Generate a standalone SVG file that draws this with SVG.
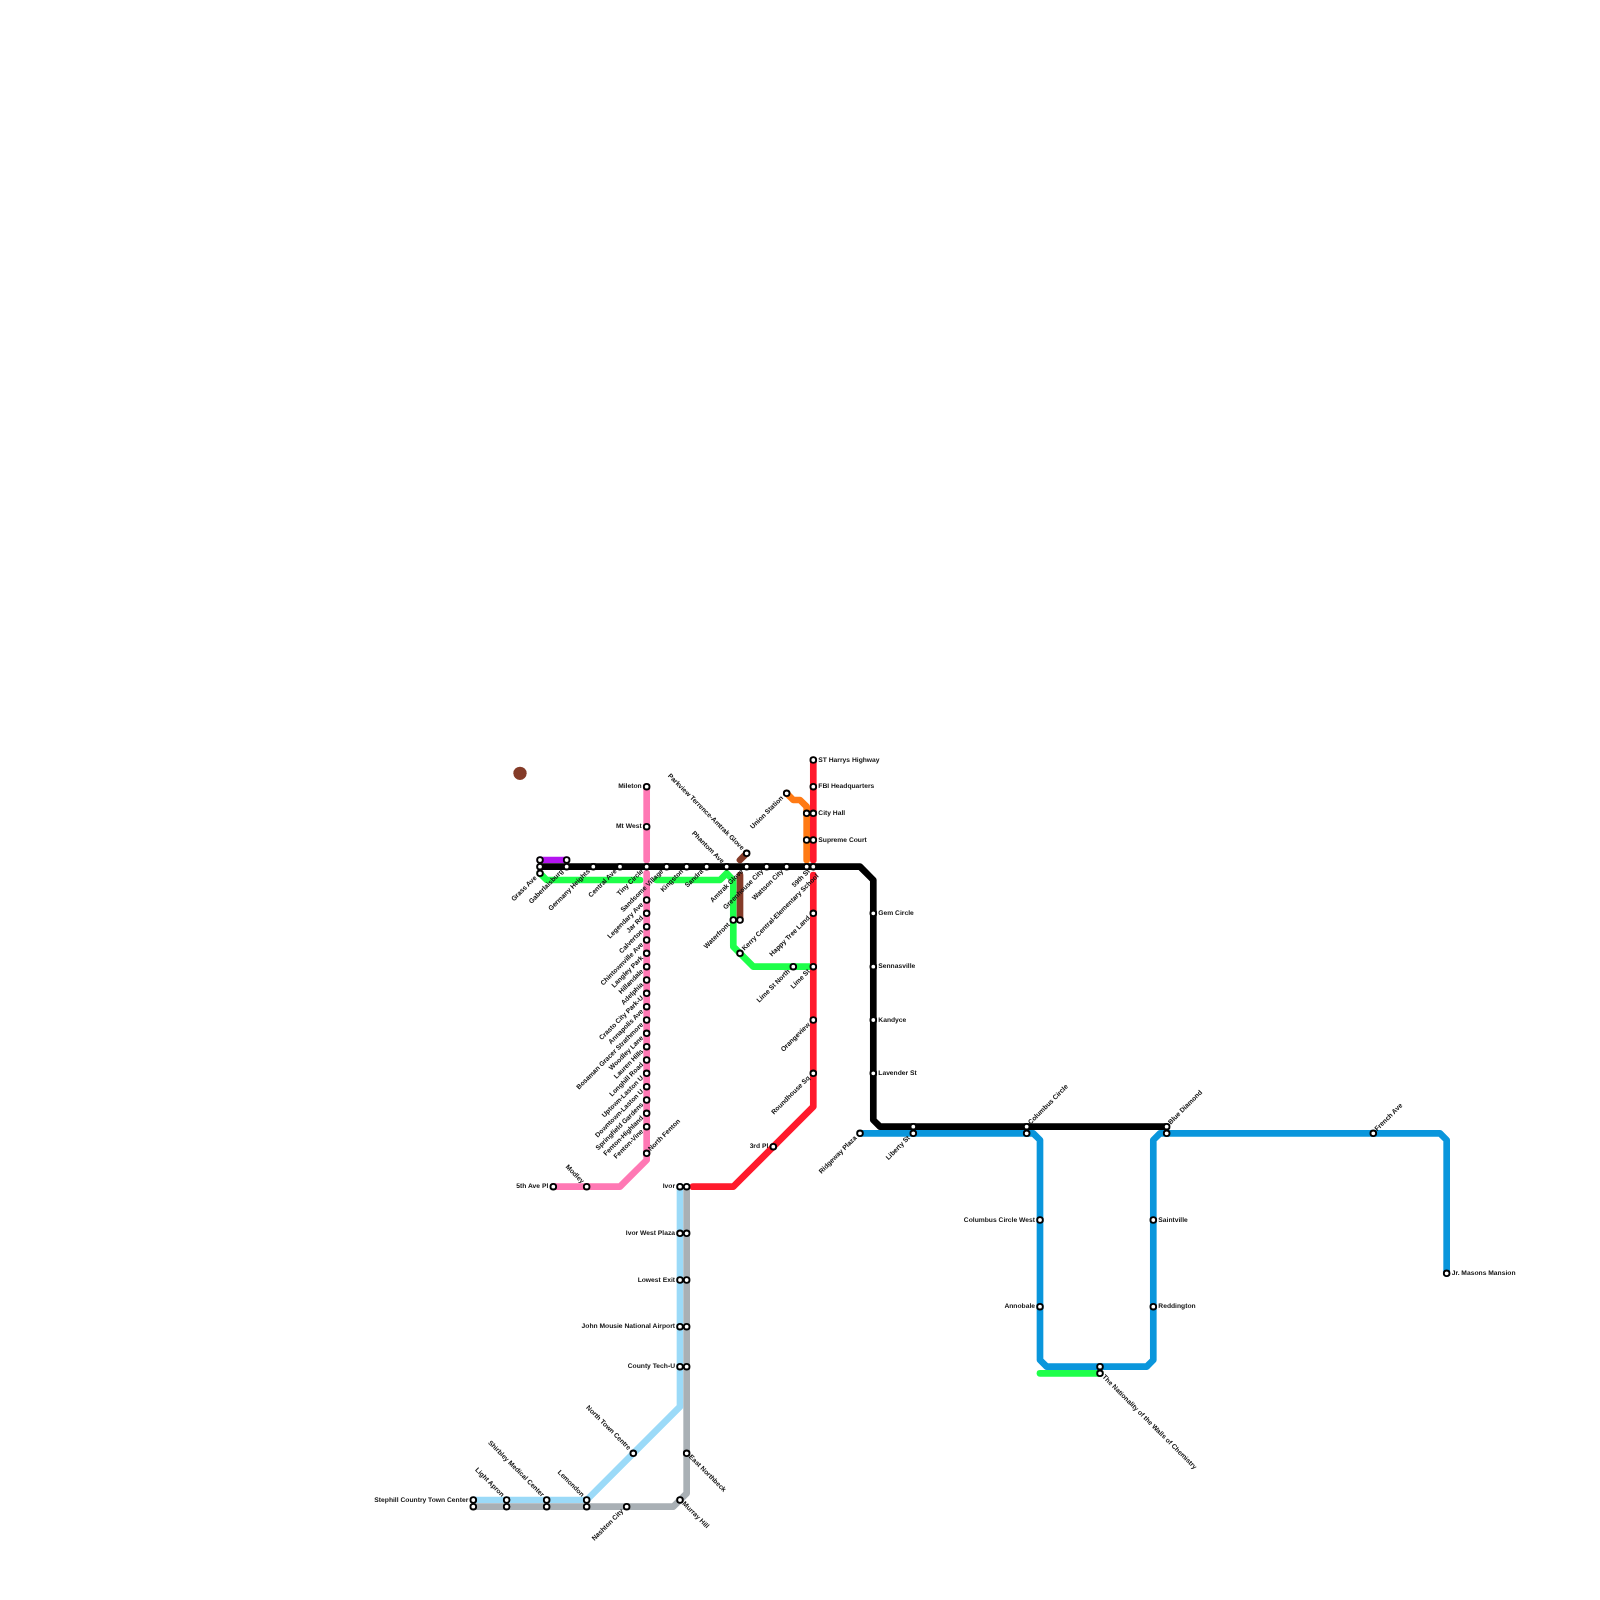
<svg xmlns="http://www.w3.org/2000/svg" width="1600" height="1600" viewBox="0 0 1600 1600">
<style>
.l{fill:none;stroke-width:6.67;stroke-linecap:round;stroke-linejoin:round}
.pk{stroke:#ff78b4}.rd{stroke:#ff1a2c}.gn{stroke:#1eff4a}.bl{stroke:#0a96dc}.lb{stroke:#9bdaf8}.gy{stroke:#a9b0b5}.or{stroke:#ff7a14}.pu{stroke:#b414f0}.br{stroke:#843b28}.bk{stroke:#000}
circle.s{fill:#fff;stroke:#000;stroke-width:1.85}
text{font-family:"Liberation Sans",Arial,sans-serif;font-size:6.72px;font-weight:700;fill:#111;dominant-baseline:central;text-rendering:geometricPrecision;filter:grayscale(1)}
text:not([transform]){translate:0 .3px}
.e{text-anchor:end}
</style>
<rect width="1600" height="1600" fill="#fff"/>
<circle id="brown-dot" cx="520" cy="773.3" r="6.67" fill="#843b28"/>
<g id="connectors">
<path class="l pu" d="M540 860H566.67"/>
<path class="l pk" d="M646.67 786.67V860"/>
<path class="l pk" d="M646.67 873.3V1160L620 1186.67H553.3"/>
<path class="l gn" d="M540 873.3L546.67 880H640"/>
<path class="l gn" d="M656.67 880H720L726.67 873.3L733.3 880V946.67L753.3 966.67H810"/>
<path class="l gn" d="M1040 1373.3H1100"/>
<path class="l br" d="M746.67 853.3L740 860"/>
<path class="l br" d="M740 875V920"/>
<path class="l or" d="M786.67 793.3L793.3 800H800L806.67 806.67V860"/>
<path class="l rd" d="M813.3 760V860"/>
<path class="l rd" d="M813.3 875V1106.67L733.3 1186.67H693"/>
<path class="l lb" d="M680 1186.67V1406.67L586.67 1500H473.3"/>
<path class="l gy" d="M686.67 1186.67V1493.3L673.3 1506.67H473.3"/>
<path class="l bl" d="M860 1133.3H1033.3L1040 1140V1360L1046.67 1366.67H1146.67L1153.3 1360V1140L1160 1133.3H1440L1446.67 1140V1273.3"/>
<path class="l bk" d="M540 866.67H860L873.3 880V1120L880 1126.67H1166.67"/>
</g>
<g id="n-grass-ave"><circle class="s" cx="540" cy="860" r="2.85"/><circle class="s" cx="540" cy="866.67" r="2.85"/><circle class="s" cx="540" cy="873.3" r="2.85"/><text class="e" x="536" y="877.3" transform="rotate(-45 536 877.3)">Grass Ave</text></g>
<g id="n-gaberlaisburg"><circle class="s" cx="566.67" cy="860" r="2.85"/><circle class="s" cx="566.67" cy="866.67" r="2.85"/><text class="e" x="562.67" y="870.67" transform="rotate(-45 562.67 870.67)">Gaberlaisburg</text></g>
<g id="n-germany-heights"><circle class="s" cx="593.3" cy="866.67" r="2.85"/><text class="e" x="589.3" y="870.67" transform="rotate(-45 589.3 870.67)">Germany Heights</text></g>
<g id="n-central-ave"><circle class="s" cx="620" cy="866.67" r="2.85"/><text class="e" x="616" y="870.67" transform="rotate(-45 616 870.67)">Central Ave</text></g>
<g id="n-tiny-circle"><circle class="s" cx="646.67" cy="866.67" r="2.85"/><text class="e" x="642.67" y="870.67" transform="rotate(-45 642.67 870.67)">Tiny Circle</text></g>
<g id="n-sandsome-village"><circle class="s" cx="666.67" cy="866.67" r="2.85"/><text class="e" x="662.67" y="870.67" transform="rotate(-45 662.67 870.67)">Sandsome Village</text></g>
<g id="n-kingston"><circle class="s" cx="686.67" cy="866.67" r="2.85"/><text class="e" x="682.67" y="870.67" transform="rotate(-45 682.67 870.67)">Kingston</text></g>
<g id="n-sandra"><circle class="s" cx="706.67" cy="866.67" r="2.85"/><text class="e" x="702.67" y="870.67" transform="rotate(-45 702.67 870.67)">Sandra</text></g>
<g id="n-phantom-ave"><circle class="s" cx="726.67" cy="866.67" r="2.85"/><text class="e" x="722.67" y="862.67" transform="rotate(45 722.67 862.67)">Phantom Ave</text></g>
<g id="n-amtrak-glove"><circle class="s" cx="746.67" cy="866.67" r="2.85"/><text class="e" x="742.67" y="870.67" transform="rotate(-45 742.67 870.67)">Amtrak Glove</text></g>
<g id="n-greenhouse-city"><circle class="s" cx="766.67" cy="866.67" r="2.85"/><text class="e" x="762.67" y="870.67" transform="rotate(-45 762.67 870.67)">Greenhouse City</text></g>
<g id="n-wattson-city"><circle class="s" cx="786.67" cy="866.67" r="2.85"/><text class="e" x="782.67" y="870.67" transform="rotate(-45 782.67 870.67)">Wattson City</text></g>
<g id="n-59th-st"><circle class="s" cx="806.67" cy="866.67" r="2.85"/><circle class="s" cx="813.3" cy="866.67" r="2.85"/><text class="e" x="809.3" y="870.67" transform="rotate(-45 809.3 870.67)">59th St</text></g>
<g id="n-parkview"><circle class="s" cx="746.67" cy="853.3" r="2.85"/><text class="e" x="742.67" y="849.3" transform="rotate(45 742.67 849.3)">Parkview Terrence-Amtrak Glove</text></g>
<g id="n-union-station"><circle class="s" cx="786.67" cy="793.3" r="2.85"/><text class="e" x="782.67" y="797.3" transform="rotate(-45 782.67 797.3)">Union Station</text></g>
<g id="n-st-harrys"><circle class="s" cx="813.3" cy="760" r="2.85"/><text x="818.3" y="760">ST Harrys Highway</text></g>
<g id="n-fbi"><circle class="s" cx="813.3" cy="786.67" r="2.85"/><text x="818.3" y="786.67">FBI Headquarters</text></g>
<g id="n-city-hall"><circle class="s" cx="806.67" cy="813.3" r="2.85"/><circle class="s" cx="813.3" cy="813.3" r="2.85"/><text x="818.3" y="813.3">City Hall</text></g>
<g id="n-supreme-court"><circle class="s" cx="806.67" cy="840" r="2.85"/><circle class="s" cx="813.3" cy="840" r="2.85"/><text x="818.3" y="840">Supreme Court</text></g>
<g id="n-happy-tree"><circle class="s" cx="813.3" cy="913.3" r="2.85"/><text class="e" x="809.3" y="917.3" transform="rotate(-45 809.3 917.3)">Happy Tree Land</text></g>
<g id="n-lime-st"><circle class="s" cx="813.3" cy="966.67" r="2.85"/><text class="e" x="809.3" y="970.67" transform="rotate(-45 809.3 970.67)">Lime St</text></g>
<g id="n-lime-st-north"><circle class="s" cx="793.3" cy="966.67" r="2.85"/><text class="e" x="789.3" y="970.67" transform="rotate(-45 789.3 970.67)">Lime St North</text></g>
<g id="n-orangeview"><circle class="s" cx="813.3" cy="1020" r="2.85"/><text class="e" x="809.3" y="1024" transform="rotate(-45 809.3 1024)">Orangeview</text></g>
<g id="n-roundhouse"><circle class="s" cx="813.3" cy="1073.3" r="2.85"/><text class="e" x="809.3" y="1077.3" transform="rotate(-45 809.3 1077.3)">Roundhouse Sq</text></g>
<g id="n-3rd-pl"><circle class="s" cx="773.3" cy="1146.67" r="2.85"/><text class="e" x="768.3" y="1146.67">3rd Pl</text></g>
<g id="n-waterfront"><circle class="s" cx="733.3" cy="920" r="2.85"/><circle class="s" cx="740" cy="920" r="2.85"/><text class="e" x="729.3" y="924" transform="rotate(-45 729.3 924)">Waterfront</text></g>
<g id="n-kerry"><circle class="s" cx="740" cy="953.3" r="2.85"/><text x="743.5" y="949.8" transform="rotate(-45 743.5 949.8)">Kerry Central-Elementary School</text></g>
<g id="n-mileton"><circle class="s" cx="646.67" cy="786.67" r="2.85"/><text class="e" x="641.67" y="786.67">Mileton</text></g>
<g id="n-mt-west"><circle class="s" cx="646.67" cy="826.67" r="2.85"/><text class="e" x="641.67" y="826.67">Mt West</text></g>
<g id="n-legendary"><circle class="s" cx="646.67" cy="900" r="2.85"/><text class="e" x="642.67" y="904" transform="rotate(-45 642.67 904)">Legendary Ave</text></g>
<g id="n-jar-rd"><circle class="s" cx="646.67" cy="913.3" r="2.85"/><text class="e" x="642.67" y="917.3" transform="rotate(-45 642.67 917.3)">Jar Rd</text></g>
<g id="n-calverton"><circle class="s" cx="646.67" cy="926.67" r="2.85"/><text class="e" x="642.67" y="930.67" transform="rotate(-45 642.67 930.67)">Calverton</text></g>
<g id="n-chintownville"><circle class="s" cx="646.67" cy="940" r="2.85"/><text class="e" x="642.67" y="944" transform="rotate(-45 642.67 944)">Chintownville Ave</text></g>
<g id="n-langley"><circle class="s" cx="646.67" cy="953.3" r="2.85"/><text class="e" x="642.67" y="957.3" transform="rotate(-45 642.67 957.3)">Langley Park</text></g>
<g id="n-hillandale"><circle class="s" cx="646.67" cy="966.67" r="2.85"/><text class="e" x="642.67" y="970.67" transform="rotate(-45 642.67 970.67)">Hillandale</text></g>
<g id="n-adelphia"><circle class="s" cx="646.67" cy="980" r="2.85"/><text class="e" x="642.67" y="984" transform="rotate(-45 642.67 984)">Adelphia</text></g>
<g id="n-crasto"><circle class="s" cx="646.67" cy="993.3" r="2.85"/><text class="e" x="642.67" y="997.3" transform="rotate(-45 642.67 997.3)">Crasto City Park-U</text></g>
<g id="n-annapolis"><circle class="s" cx="646.67" cy="1006.67" r="2.85"/><text class="e" x="642.67" y="1010.67" transform="rotate(-45 642.67 1010.67)">Annapolis Ave</text></g>
<g id="n-bosaman"><circle class="s" cx="646.67" cy="1020" r="2.85"/><text class="e" x="642.67" y="1024" transform="rotate(-45 642.67 1024)">Bosaman Gracer Strathmore</text></g>
<g id="n-woodley"><circle class="s" cx="646.67" cy="1033.3" r="2.85"/><text class="e" x="642.67" y="1037.3" transform="rotate(-45 642.67 1037.3)">Woodley Lane</text></g>
<g id="n-lauren"><circle class="s" cx="646.67" cy="1046.67" r="2.85"/><text class="e" x="642.67" y="1050.67" transform="rotate(-45 642.67 1050.67)">Lauren Hills</text></g>
<g id="n-longhill"><circle class="s" cx="646.67" cy="1060" r="2.85"/><text class="e" x="642.67" y="1064" transform="rotate(-45 642.67 1064)">Longhill Road</text></g>
<g id="n-uptown"><circle class="s" cx="646.67" cy="1073.3" r="2.85"/><text class="e" x="642.67" y="1077.3" transform="rotate(-45 642.67 1077.3)">Uptown-Laston U</text></g>
<g id="n-downtown"><circle class="s" cx="646.67" cy="1086.67" r="2.85"/><text class="e" x="642.67" y="1090.67" transform="rotate(-45 642.67 1090.67)">Downtown-Laston U</text></g>
<g id="n-springfield"><circle class="s" cx="646.67" cy="1100" r="2.85"/><text class="e" x="642.67" y="1104" transform="rotate(-45 642.67 1104)">Springfield Gardens</text></g>
<g id="n-fenton-highland"><circle class="s" cx="646.67" cy="1113.3" r="2.85"/><text class="e" x="642.67" y="1117.3" transform="rotate(-45 642.67 1117.3)">Fenton-Highland</text></g>
<g id="n-fenton-vine"><circle class="s" cx="646.67" cy="1126.67" r="2.85"/><text class="e" x="642.67" y="1130.67" transform="rotate(-45 642.67 1130.67)">Fenton-Vine</text></g>
<g id="n-north-fenton"><circle class="s" cx="646.67" cy="1153.3" r="2.85"/><text x="649.67" y="1150.3" transform="rotate(-45 649.67 1150.3)">North Fenton</text></g>
<g id="n-modley"><circle class="s" cx="586.67" cy="1186.67" r="2.85"/><text class="e" x="582.67" y="1182.67" transform="rotate(45 582.67 1182.67)">Modley</text></g>
<g id="n-5th-ave"><circle class="s" cx="553.3" cy="1186.67" r="2.85"/><text class="e" x="548.3" y="1186.67">5th Ave Pl</text></g>
<g id="n-ivor"><circle class="s" cx="680" cy="1186.67" r="2.85"/><circle class="s" cx="686.67" cy="1186.67" r="2.85"/><text class="e" x="675" y="1186.67">Ivor</text></g>
<g id="n-ivor-west"><circle class="s" cx="680" cy="1233.3" r="2.85"/><circle class="s" cx="686.67" cy="1233.3" r="2.85"/><text class="e" x="675" y="1233.3">Ivor West Plaza</text></g>
<g id="n-lowest-exit"><circle class="s" cx="680" cy="1280" r="2.85"/><circle class="s" cx="686.67" cy="1280" r="2.85"/><text class="e" x="675" y="1280">Lowest Exit</text></g>
<g id="n-john-mousie"><circle class="s" cx="680" cy="1326.67" r="2.85"/><circle class="s" cx="686.67" cy="1326.67" r="2.85"/><text class="e" x="675" y="1326.67">John Mousie National Airport</text></g>
<g id="n-county-tech"><circle class="s" cx="680" cy="1366.67" r="2.85"/><circle class="s" cx="686.67" cy="1366.67" r="2.85"/><text class="e" x="675" y="1366.67">County Tech-U</text></g>
<g id="n-north-town"><circle class="s" cx="633.3" cy="1453.3" r="2.85"/><text class="e" x="629.3" y="1449.3" transform="rotate(45 629.3 1449.3)">North Town Centre</text></g>
<g id="n-east-northbeck"><circle class="s" cx="686.67" cy="1453.3" r="2.85"/><text x="689.67" y="1456.3" transform="rotate(45 689.67 1456.3)">East Northbeck</text></g>
<g id="n-murray-hill"><circle class="s" cx="680" cy="1500" r="2.85"/><text x="683" y="1503" transform="rotate(45 683 1503)">Murray Hill</text></g>
<g id="n-nashton"><circle class="s" cx="626.67" cy="1506.67" r="2.85"/><text class="e" x="622.67" y="1510.67" transform="rotate(-45 622.67 1510.67)">Nashton City</text></g>
<g id="n-lemondon"><circle class="s" cx="586.67" cy="1500" r="2.85"/><circle class="s" cx="586.67" cy="1506.67" r="2.85"/><text class="e" x="582.67" y="1496" transform="rotate(45 582.67 1496)">Lemondon</text></g>
<g id="n-shirbley"><circle class="s" cx="546.67" cy="1500" r="2.85"/><circle class="s" cx="546.67" cy="1506.67" r="2.85"/><text class="e" x="542.67" y="1496" transform="rotate(45 542.67 1496)">Shirbley Medical Center</text></g>
<g id="n-light-apron"><circle class="s" cx="506.67" cy="1500" r="2.85"/><circle class="s" cx="506.67" cy="1506.67" r="2.85"/><text class="e" x="502.67" y="1496" transform="rotate(45 502.67 1496)">Light Apron</text></g>
<g id="n-stephill"><circle class="s" cx="473.3" cy="1500" r="2.85"/><circle class="s" cx="473.3" cy="1506.67" r="2.85"/><text class="e" x="468.3" y="1500">Stephill Country Town Center</text></g>
<g id="n-gem-circle"><circle class="s" cx="873.3" cy="913.3" r="2.85"/><text x="878.3" y="913.3">Gem Circle</text></g>
<g id="n-sennasville"><circle class="s" cx="873.3" cy="966.67" r="2.85"/><text x="878.3" y="966.67">Sennasville</text></g>
<g id="n-kandyce"><circle class="s" cx="873.3" cy="1020" r="2.85"/><text x="878.3" y="1020">Kandyce</text></g>
<g id="n-lavender"><circle class="s" cx="873.3" cy="1073.3" r="2.85"/><text x="878.3" y="1073.3">Lavender St</text></g>
<g id="n-ridgeway"><circle class="s" cx="860" cy="1133.3" r="2.85"/><text class="e" x="856" y="1137.3" transform="rotate(-45 856 1137.3)">Ridgeway Plaza</text></g>
<g id="n-liberty"><circle class="s" cx="913.3" cy="1126.67" r="2.85"/><circle class="s" cx="913.3" cy="1133.3" r="2.85"/><text class="e" x="909.3" y="1137.3" transform="rotate(-45 909.3 1137.3)">Liberty St</text></g>
<g id="n-columbus"><circle class="s" cx="1026.67" cy="1126.67" r="2.85"/><circle class="s" cx="1026.67" cy="1133.3" r="2.85"/><text x="1029.67" y="1123.67" transform="rotate(-45 1029.67 1123.67)">Columbus Circle</text></g>
<g id="n-blue-diamond"><circle class="s" cx="1166.67" cy="1126.67" r="2.85"/><circle class="s" cx="1166.67" cy="1133.3" r="2.85"/><text x="1169.67" y="1123.67" transform="rotate(-45 1169.67 1123.67)">Blue Diamond</text></g>
<g id="n-french"><circle class="s" cx="1373.3" cy="1133.3" r="2.85"/><text x="1376.3" y="1130.3" transform="rotate(-45 1376.3 1130.3)">French Ave</text></g>
<g id="n-jr-masons"><circle class="s" cx="1446.67" cy="1273.3" r="2.85"/><text x="1451.67" y="1273.3">Jr. Masons Mansion</text></g>
<g id="n-columbus-west"><circle class="s" cx="1040" cy="1220" r="2.85"/><text class="e" x="1035" y="1220">Columbus Circle West</text></g>
<g id="n-annobale"><circle class="s" cx="1040" cy="1306.67" r="2.85"/><text class="e" x="1035" y="1306.67">Annobale</text></g>
<g id="n-saintville"><circle class="s" cx="1153.3" cy="1220" r="2.85"/><text x="1158.3" y="1220">Saintville</text></g>
<g id="n-reddington"><circle class="s" cx="1153.3" cy="1306.67" r="2.85"/><text x="1158.3" y="1306.67">Reddington</text></g>
<g id="n-nationality"><circle class="s" cx="1100" cy="1366.67" r="2.85"/><circle class="s" cx="1100" cy="1373.3" r="2.85"/><text x="1103" y="1376.3" transform="rotate(45 1103 1376.3)">The Nationality of the Walls of Chemistry</text></g>
</svg>
